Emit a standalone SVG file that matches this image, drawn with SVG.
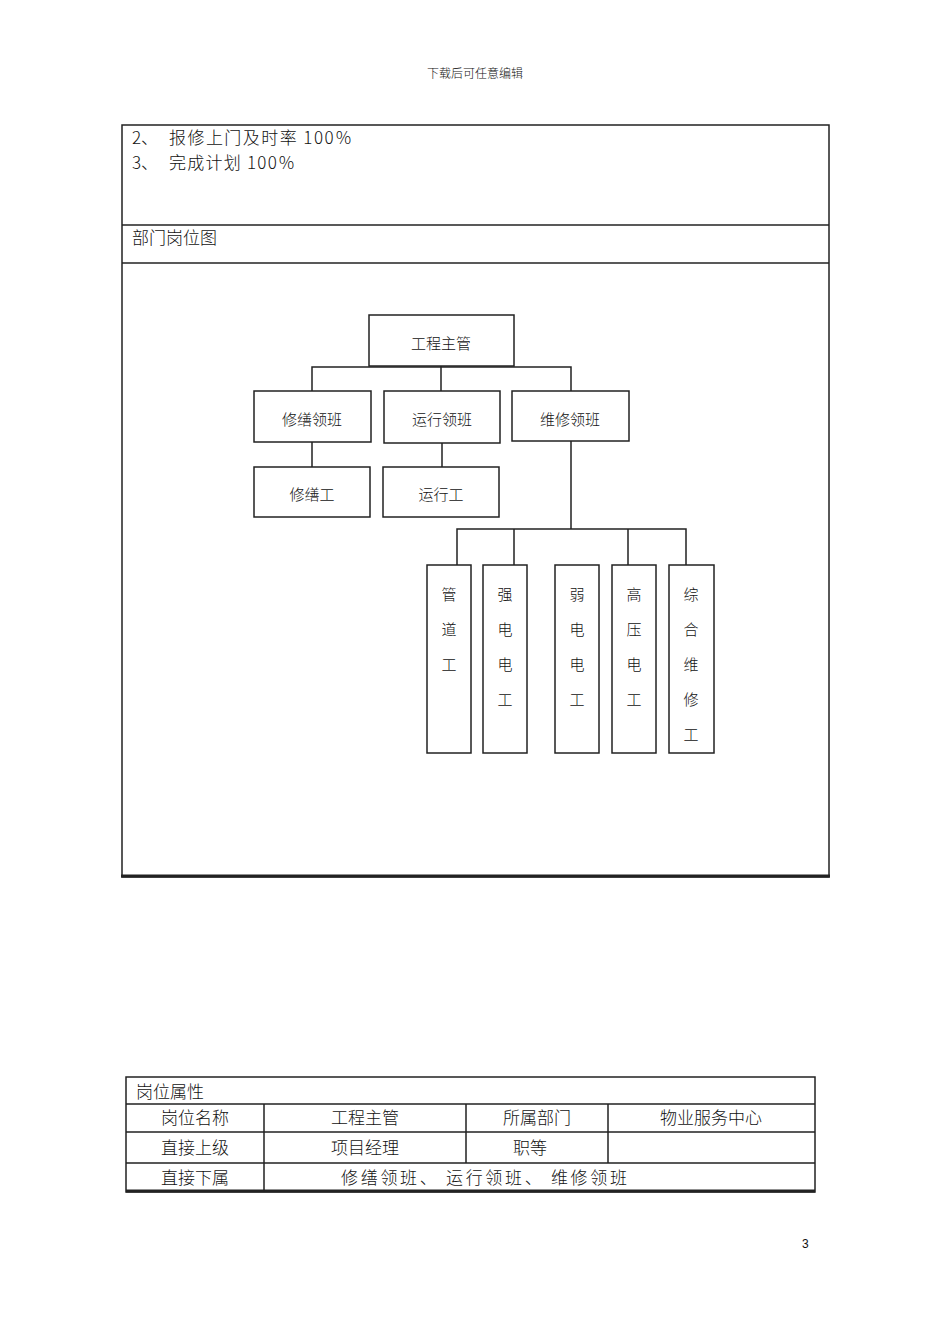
<svg xmlns="http://www.w3.org/2000/svg" width="950" height="1344" viewBox="0 0 950 1344">
<style>
text{font-family:"Noto Sans CJK SC","Liberation Sans",sans-serif;fill:#111;font-weight:300}
.t{font-size:17px}
.n{font-size:15px;text-anchor:middle}
.b{fill:#fff;stroke:#222;stroke-width:1.5}
.c{stroke:#222;stroke-width:1.5;fill:none}
.g{stroke:#222;stroke-width:1.5;fill:none}
</style>
<rect width="950" height="1344" fill="#fff"/>
<text x="475" y="78" font-size="12" text-anchor="middle">下载后可任意编辑</text>
<g id="frame">
<rect x="122" y="125" width="707" height="752" class="g"/>
<line x1="121" y1="876" x2="830" y2="876" stroke="#222" stroke-width="3"/>
<line x1="122" y1="225" x2="829" y2="225" class="g"/>
<line x1="122" y1="263" x2="829" y2="263" class="g"/>
<text x="132" y="144" class="t">2、</text><text x="169" y="144" class="t" textLength="183" lengthAdjust="spacing">报修上门及时率 100％</text>
<text x="132" y="169" class="t">3、</text><text x="169" y="169" class="t" textLength="126" lengthAdjust="spacing">完成计划 100％</text>
<text x="132" y="244" class="t">部门岗位图</text>
</g>
<g id="connectors">
<path class="c" d="M441 355V391M312 391V367H571V391M312 442V467M442 443V467M571 441V529M457 565V529H686V565M514 529V565M628 529V565"/>
</g>
<g id="n0"><rect class="b" x="369" y="315" width="145" height="51"/><text class="n" x="441" y="349">工程主管</text></g>
<g id="n1"><rect class="b" x="254" y="391" width="117" height="51"/><text class="n" x="312" y="425">修缮领班</text></g>
<g id="n2"><rect class="b" x="384" y="391" width="116" height="52"/><text class="n" x="442" y="425">运行领班</text></g>
<g id="n3"><rect class="b" x="512" y="391" width="117" height="50"/><text class="n" x="570" y="425">维修领班</text></g>
<g id="n4"><rect class="b" x="254" y="467" width="116" height="50"/><text class="n" x="312" y="500">修缮工</text></g>
<g id="n5"><rect class="b" x="383" y="467" width="116" height="50"/><text class="n" x="441" y="500">运行工</text></g>
<g id="n6"><rect class="b" x="427" y="565" width="44" height="188"/><text class="n" x="449" y="600">管</text><text class="n" x="449" y="635">道</text><text class="n" x="449" y="670">工</text></g>
<g id="n7"><rect class="b" x="483" y="565" width="44" height="188"/><text class="n" x="505" y="600">强</text><text class="n" x="505" y="635">电</text><text class="n" x="505" y="670">电</text><text class="n" x="505" y="705">工</text></g>
<g id="n8"><rect class="b" x="555" y="565" width="44" height="188"/><text class="n" x="577" y="600">弱</text><text class="n" x="577" y="635">电</text><text class="n" x="577" y="670">电</text><text class="n" x="577" y="705">工</text></g>
<g id="n9"><rect class="b" x="612" y="565" width="44" height="188"/><text class="n" x="634" y="600">高</text><text class="n" x="634" y="635">压</text><text class="n" x="634" y="670">电</text><text class="n" x="634" y="705">工</text></g>
<g id="n10"><rect class="b" x="669" y="565" width="45" height="188"/><text class="n" x="691" y="600">综</text><text class="n" x="691" y="635">合</text><text class="n" x="691" y="670">维</text><text class="n" x="691" y="705">修</text><text class="n" x="691" y="740">工</text></g>
<g id="table">
<rect x="126" y="1077" width="689" height="115" class="g"/>
<line x1="126" y1="1191" x2="815" y2="1191" stroke="#222" stroke-width="3"/>
<path class="g" d="M126 1104H815M126 1132H815M126 1163H815M264 1104V1192M466 1104V1163M608 1104V1163"/>
<text x="136" y="1098" class="t">岗位属性</text>
<text x="195" y="1124" class="t" text-anchor="middle">岗位名称</text>
<text x="365" y="1124" class="t" text-anchor="middle">工程主管</text>
<text x="537" y="1124" class="t" text-anchor="middle">所属部门</text>
<text x="711" y="1124" class="t" text-anchor="middle">物业服务中心</text>
<text x="195" y="1154" class="t" text-anchor="middle">直接上级</text>
<text x="365" y="1154" class="t" text-anchor="middle">项目经理</text>
<text x="530" y="1154" class="t" text-anchor="middle">职等</text>
<text x="195" y="1184" class="t" text-anchor="middle">直接下属</text>
<text x="341" y="1184" class="t" textLength="286" lengthAdjust="spacing">修缮领班、 运行领班、 维修领班</text>
</g>
<text x="802" y="1248" font-size="12" style="font-family:'Liberation Sans',sans-serif">3</text>
</svg>
